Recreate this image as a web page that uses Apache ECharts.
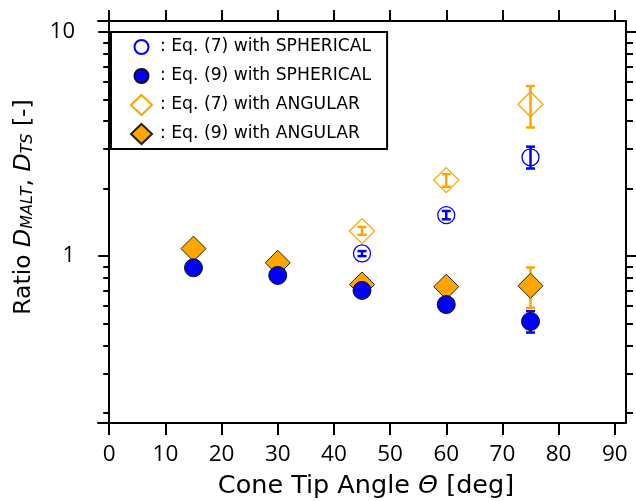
<!DOCTYPE html>
<html>
<head>
<meta charset="utf-8">
<script src="https://cdn.jsdelivr.net/npm/echarts@6/dist/echarts.min.js"></script>
<style>
  html, body { margin: 0; padding: 0; background: #fff; }
  #chart { width: 636px; height: 501px; }
</style>
</head>
<body>
<div id="chart"></div>
<script>
// cone tip angles [deg]
const xTicks = [0, 10, 20, 30, 40, 50, 60, 70, 80, 90];
const yMajor = [1, 10];
const yMinor = [0.2, 0.3, 0.4, 0.5, 0.6, 0.7, 0.8, 0.9, 2, 3, 4, 5, 6, 7, 8, 9];

const angleAll = [15, 30, 45, 60, 75];
const angleOpen = [45, 60, 75];

// Eq. (7) with SPHERICAL (open circles)
const eq7Sph = [1.028, 1.524, 2.76];
const eq7SphLo = [1.0, 1.46, 2.46];
const eq7SphHi = [1.053, 1.59, 3.08];
// Eq. (9) with SPHERICAL (filled circles)
const eq9Sph = [0.887, 0.820, 0.703, 0.608, 0.511];
const eq9SphLo = [0.87, 0.80, 0.69, 0.595, 0.456];
const eq9SphHi = [0.905, 0.84, 0.715, 0.62, 0.568];
// Eq. (7) with ANGULAR (open diamonds)
const eq7Ang = [1.293, 2.184, 4.76];
const eq7AngLo = [1.245, 2.04, 3.75];
const eq7AngHi = [1.35, 2.32, 5.74];
// Eq. (9) with ANGULAR (filled diamonds)
const eq9Ang = [1.08, 0.934, 0.747, 0.730, 0.737];
const eq9AngLo = [1.05, 0.91, 0.73, 0.71, 0.588];
const eq9AngHi = [1.11, 0.96, 0.765, 0.75, 0.890];

const BLUE = '#0000ff';
const ORANGE = '#ffa500';
const NUM_FONT = 'Open Sans';
const TXT_FONT = 'DejaVu Sans';

// small circle inside a 20x20 box so legend circles stay smaller than diamonds
const SMALL_CIRCLE = 'path://M0 0M20 20M10 3A7 7 0 1 1 10 17A7 7 0 1 1 10 3Z';

function pts(xs, ys) { return xs.map((x, i) => [x, ys[i]]); }
function bars(xs, lo, hi) { return xs.map((x, i) => [x, lo[i], hi[i]]); }

function errorBar(color, width) {
  return function (params, api) {
    const x = api.value(0);
    const lo = api.coord([x, api.value(1)]);
    const hi = api.coord([x, api.value(2)]);
    const half = 4.5;
    const style = { stroke: color, lineWidth: width };
    return {
      type: 'group',
      children: [
        { type: 'line', shape: { x1: lo[0], y1: lo[1], x2: hi[0], y2: hi[1] }, style },
        { type: 'line', shape: { x1: lo[0] - half, y1: lo[1], x2: lo[0] + half, y2: lo[1] }, style },
        { type: 'line', shape: { x1: hi[0] - half, y1: hi[1], x2: hi[0] + half, y2: hi[1] }, style }
      ]
    };
  };
}

const chart = echarts.init(document.getElementById('chart'));

const lineStyle = { color: '#000', width: 2 };
const yBase = { type: 'log', logBase: 10, min: 0.18, max: 11.2, splitLine: { show: false } };

chart.setOption({
  animation: false,
  textStyle: { fontFamily: NUM_FONT },
  grid: { left: 98, right: 10, top: 21, bottom: 78, outerBoundsMode: 'none', containLabel: false },
  legend: {
    orient: 'vertical',
    left: 111,
    top: 32,
    padding: [4, 16, 4, 19],
    itemGap: 7,
    itemWidth: 21,
    itemHeight: 20,
    borderColor: '#000',
    borderWidth: 2,
    borderRadius: 0,
    data: [
      { name: 'Eq. (7) with SPHERICAL', icon: SMALL_CIRCLE },
      { name: 'Eq. (9) with SPHERICAL', icon: SMALL_CIRCLE },
      { name: 'Eq. (7) with ANGULAR', icon: 'diamond' },
      { name: 'Eq. (9) with ANGULAR', icon: 'diamond' }
    ],
    formatter: n => ': ' + n,
    textStyle: { fontSize: 17.2, color: '#000', fontFamily: TXT_FONT, padding: [0, 0, 0, 3] }
  },
  xAxis: [
    {
      type: 'value', min: -2, max: 92, position: 'bottom',
      name: '{a|Cone Tip Angle }{i|Θ}{a| [deg]}',
      nameLocation: 'middle', nameGap: 50,
      nameTextStyle: {
        padding: [0, 0, 0, 8],
        rich: {
          a: { fontSize: 25.5, color: '#000', fontFamily: TXT_FONT },
          i: { fontSize: 25.5, fontStyle: 'italic', color: '#000', fontFamily: TXT_FONT }
        }
      },
      axisLine: { lineStyle },
      axisTick: { customValues: xTicks, length: 12, lineStyle: { color: '#000', width: 2 } },
      axisLabel: { customValues: xTicks, fontSize: 22.5, color: '#000', margin: 20 },
      splitLine: { show: false }
    },
    {
      type: 'value', min: -2, max: 92, position: 'top',
      axisLine: { lineStyle },
      axisTick: { customValues: xTicks, length: 11, lineStyle: { color: '#000', width: 2 } },
      axisLabel: { show: false },
      splitLine: { show: false }
    }
  ],
  yAxis: [
    Object.assign({}, yBase, {
      position: 'left',
      name: '{a|Ratio }{d|D}{s|MALT}{a|, }{d|D}{s|TS}{a| [-]}',
      nameLocation: 'middle', nameGap: 62, nameRotate: 90,
      nameTextStyle: {
        padding: [0, 0, 0, 30],
        rich: {
          a: { fontSize: 23.5, color: '#000', fontFamily: TXT_FONT },
          d: { fontSize: 23.5, fontStyle: 'italic', color: '#000', fontFamily: TXT_FONT },
          s: { fontSize: 16, fontStyle: 'italic', color: '#000', fontFamily: TXT_FONT, verticalAlign: 'bottom', padding: [8, 0, 0, 0] }
        }
      },
      axisLine: { lineStyle },
      axisTick: { customValues: yMajor, length: 11, lineStyle: { color: '#000', width: 2 } },
      axisLabel: { customValues: yMajor, fontSize: 22, color: '#000', margin: 23 }
    }),
    Object.assign({}, yBase, {
      position: 'left',
      axisLine: { show: false },
      axisTick: { customValues: yMinor, length: 6, lineStyle: { color: '#000', width: 2 } },
      axisLabel: { show: false }
    }),
    Object.assign({}, yBase, {
      position: 'right',
      axisLine: { lineStyle },
      axisTick: { customValues: yMajor, length: 11, lineStyle: { color: '#000', width: 2 } },
      axisLabel: { show: false }
    }),
    Object.assign({}, yBase, {
      position: 'right',
      axisLine: { show: false },
      axisTick: { customValues: yMinor, length: 7, lineStyle: { color: '#000', width: 2 } },
      axisLabel: { show: false }
    })
  ],
  series: [
    // error bars (underneath markers)
    { type: 'custom', name: 'err9ang', renderItem: errorBar(ORANGE, 2.5), data: bars(angleAll, eq9AngLo, eq9AngHi), encode: { x: 0, y: [1, 2] }, z: 1, silent: true },
    { type: 'custom', name: 'err9sph', renderItem: errorBar(BLUE, 2.5), data: bars(angleAll, eq9SphLo, eq9SphHi), encode: { x: 0, y: [1, 2] }, z: 1, silent: true },
    { type: 'custom', name: 'err7ang', renderItem: errorBar(ORANGE, 2.5), data: bars(angleOpen, eq7AngLo, eq7AngHi), encode: { x: 0, y: [1, 2] }, z: 1, silent: true },
    { type: 'custom', name: 'err7sph', renderItem: errorBar(BLUE, 2.5), data: bars(angleOpen, eq7SphLo, eq7SphHi), encode: { x: 0, y: [1, 2] }, z: 1, silent: true },
    {
      type: 'scatter', name: 'Eq. (7) with SPHERICAL', data: pts(angleOpen, eq7Sph),
      symbol: 'circle', symbolSize: 17, z: 3,
      itemStyle: { color: 'rgba(255,255,255,0)', borderColor: BLUE, borderWidth: 1.3, opacity: 1 }
    },
    {
      type: 'scatter', name: 'Eq. (9) with SPHERICAL', data: pts(angleAll, eq9Sph),
      symbol: 'circle', symbolSize: 18, z: 4,
      itemStyle: { color: BLUE, borderColor: '#111', borderWidth: 1, opacity: 1 }
    },
    {
      type: 'scatter', name: 'Eq. (7) with ANGULAR', data: pts(angleOpen, eq7Ang),
      symbol: 'diamond', symbolSize: 25, z: 3,
      itemStyle: { color: 'rgba(255,255,255,0)', borderColor: ORANGE, borderWidth: 1.3, opacity: 1 }
    },
    {
      type: 'scatter', name: 'Eq. (9) with ANGULAR', data: pts(angleAll, eq9Ang),
      symbol: 'diamond', symbolSize: 25, z: 3,
      itemStyle: { color: ORANGE, borderColor: '#222', borderWidth: 1, opacity: 1 }
    }
  ]
});
</script>
</body>
</html>
